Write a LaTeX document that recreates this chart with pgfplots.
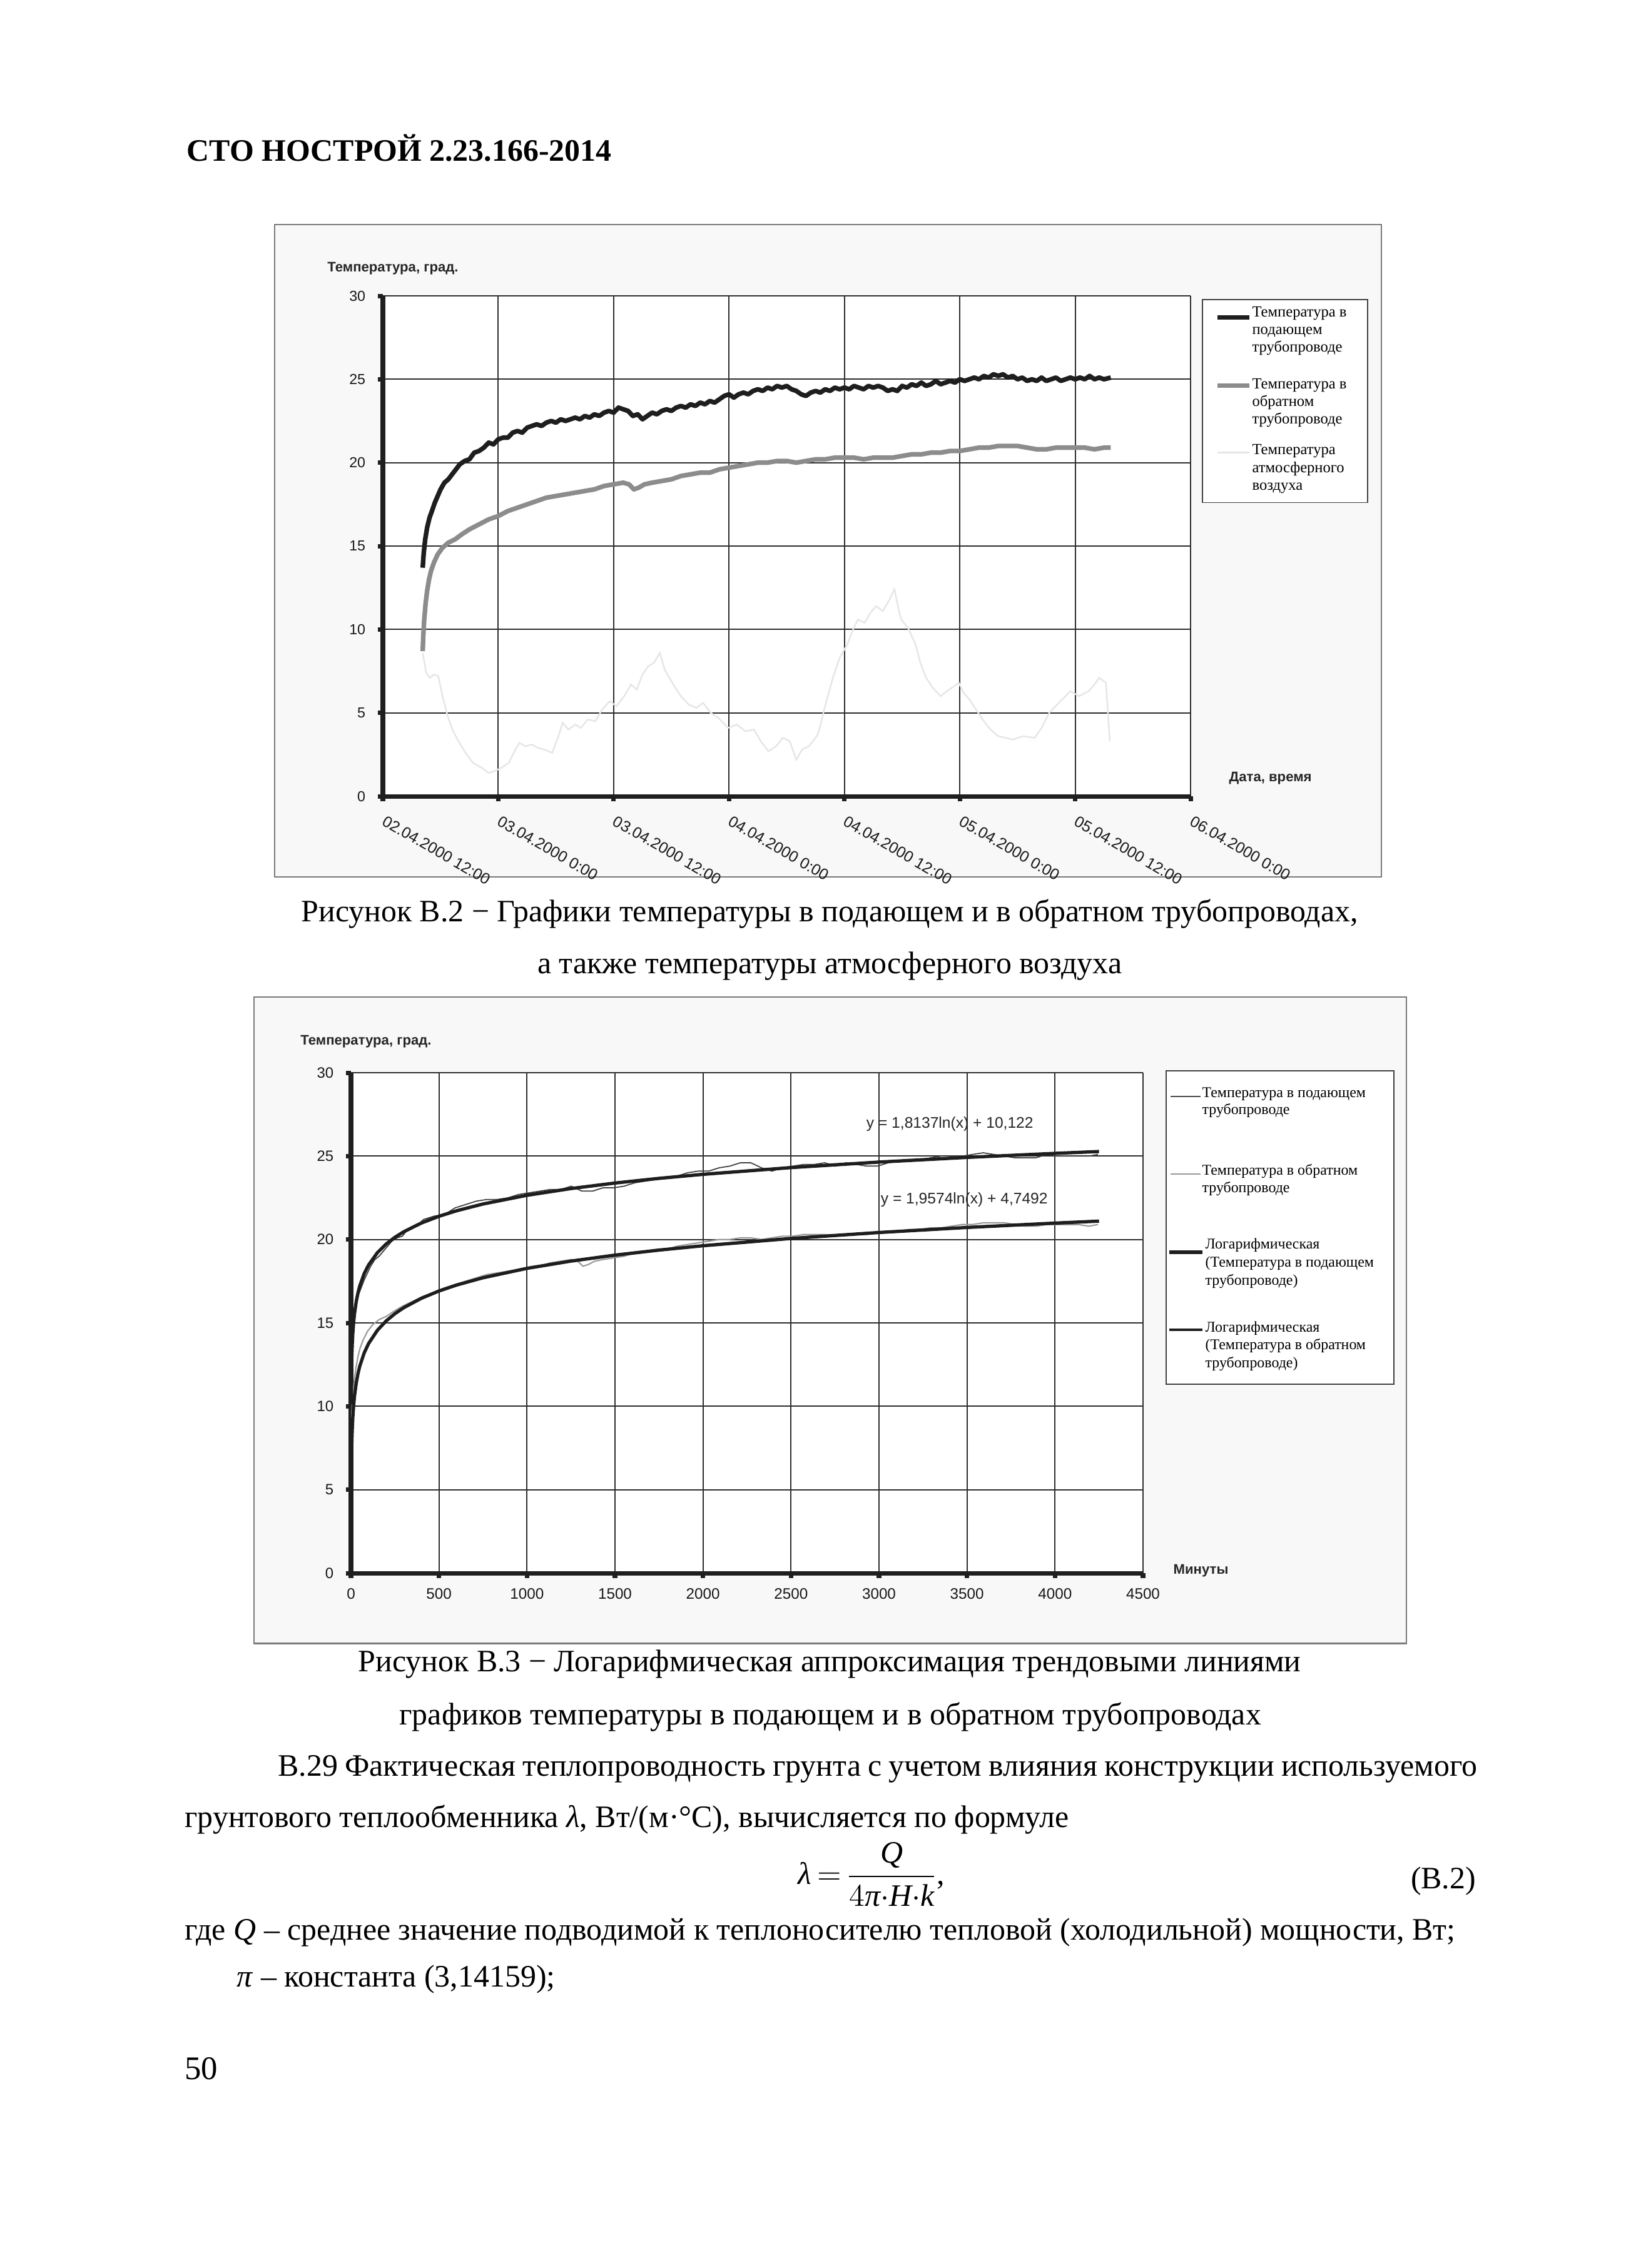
\documentclass[border=0pt]{standalone}
\usepackage{fontspec}
\setmainfont{Liberation Serif}
\newfontfamily\csans{Liberation Sans}
\usepackage{amsmath}
\usepackage{pgfplots}
\usepackage{pgfplotstable}
\pgfplotsset{compat=1.18}

\definecolor{framec}{HTML}{7A7A7A}
\definecolor{chartbg}{HTML}{F8F8F8}
\definecolor{gridc}{HTML}{2E2E2E}
\definecolor{supc}{HTML}{1E1E1E}
\definecolor{retc}{HTML}{8C8C8C}
\definecolor{airc}{HTML}{E6E6E6}
\newcommand\fs[2]{\fontsize{#1}{#2}\selectfont}

\begin{document}
% Рисунок В.2: часы от 02.04.2000 12:00
\pgfplotstableread{
h v
4.14 13.7
4.25 14.6
4.4 15.4
4.6 16.1
4.85 16.7
5.1 17.1
5.4 17.6
5.7 18.0
6.0 18.4
6.4 18.8
6.8 19.0
7.2 19.3
7.6 19.6
8.0 19.9
8.5 20.1
9.0 20.2
9.5 20.6
10.0 20.7
10.5 20.9
11.0 21.2
11.5 21.1
12.0 21.4
12.5 21.5
13.0 21.5
13.5 21.8
14.0 21.9
14.5 21.8
15.0 22.1
15.5 22.2
16.0 22.3
16.5 22.2
17.0 22.4
17.5 22.5
18.0 22.4
18.5 22.6
19.0 22.5
19.5 22.6
20.0 22.7
20.5 22.6
21.0 22.8
21.5 22.7
22.0 22.9
22.5 22.8
23.0 23.0
23.5 23.1
24.0 23.0
24.5 23.3
25.0 23.2
25.5 23.1
26.0 22.8
26.5 22.9
27.0 22.6
27.5 22.8
28.0 23.0
28.5 22.9
29.0 23.1
29.5 23.2
30.0 23.1
30.5 23.3
31.0 23.4
31.5 23.3
32.0 23.5
32.5 23.4
33.0 23.6
33.5 23.5
34.0 23.7
34.5 23.6
35.0 23.8
35.5 24.0
36.0 24.1
36.5 23.9
37.0 24.1
37.5 24.2
38.0 24.1
38.5 24.3
39.0 24.4
39.5 24.3
40.0 24.5
40.5 24.4
41.0 24.6
41.5 24.5
42.0 24.6
42.5 24.4
43.0 24.3
43.5 24.1
44.0 24.0
44.5 24.2
45.0 24.3
45.5 24.2
46.0 24.4
46.5 24.3
47.0 24.5
47.5 24.4
48.0 24.5
48.5 24.4
49.0 24.6
49.5 24.5
50.0 24.4
50.5 24.6
51.0 24.5
51.5 24.6
52.0 24.5
52.5 24.3
53.0 24.4
53.5 24.3
54.0 24.6
54.5 24.5
55.0 24.7
55.5 24.6
56.0 24.8
56.5 24.6
57.0 24.7
57.5 24.9
58.0 24.7
58.5 24.8
59.0 24.9
59.5 24.8
60.0 25.0
60.5 24.9
61.0 25.0
61.5 25.1
62.0 25.0
62.5 25.2
63.0 25.1
63.5 25.3
64.0 25.2
64.5 25.3
65.0 25.1
65.5 25.2
66.0 25.0
66.5 25.1
67.0 24.9
67.5 25.0
68.0 24.9
68.5 25.1
69.0 24.9
69.5 25.0
70.0 25.1
70.5 24.9
71.0 25.0
71.5 25.1
72.0 25.0
72.5 25.1
73.0 25.0
73.5 25.2
74.0 25.0
74.5 25.1
75.0 25.0
75.7 25.1
}\supply
\pgfplotstableread{
h v
4.14 8.7
4.2 9.6
4.3 10.6
4.45 11.6
4.6 12.3
4.8 13.0
5.0 13.5
5.3 14.0
5.7 14.5
6.2 14.9
6.8 15.2
7.5 15.4
8.2 15.7
9.0 16.0
10.0 16.3
11.0 16.6
12.0 16.8
13.0 17.1
14.0 17.3
15.0 17.5
16.0 17.7
17.0 17.9
18.0 18.0
19.0 18.1
20.0 18.2
21.0 18.3
22.0 18.4
23.0 18.6
24.0 18.7
25.0 18.8
25.6 18.7
26.1 18.4
26.6 18.5
27.2 18.7
28.0 18.8
29.0 18.9
30.0 19.0
31.0 19.2
32.0 19.3
33.0 19.4
34.0 19.4
35.0 19.6
36.0 19.7
37.0 19.8
38.0 19.9
39.0 20.0
40.0 20.0
41.0 20.1
42.0 20.1
43.0 20.0
44.0 20.1
45.0 20.2
46.0 20.2
47.0 20.3
48.0 20.3
49.0 20.3
50.0 20.2
51.0 20.3
52.0 20.3
53.0 20.3
54.0 20.4
55.0 20.5
56.0 20.5
57.0 20.6
58.0 20.6
59.0 20.7
60.0 20.7
61.0 20.8
62.0 20.9
63.0 20.9
64.0 21.0
65.0 21.0
66.0 21.0
67.0 20.9
68.0 20.8
69.0 20.8
70.0 20.9
71.0 20.9
72.0 20.9
73.0 20.9
74.0 20.8
75.0 20.9
75.7 20.9
}\ret
\pgfplotstableread{
h v
4.14 8.6
4.5 7.4
4.87 7.1
5.3 7.3
5.76 7.2
6.2 6.0
6.74 4.8
7.3 3.9
7.86 3.3
8.6 2.6
9.36 2.0
10.3 1.7
11.0 1.4
11.6 1.5
12.3 1.7
13.1 2.0
13.6 2.6
14.2 3.2
14.8 3.0
15.5 3.1
16.1 2.9
16.8 2.8
17.6 2.6
18.2 3.5
18.7 4.4
19.3 4.0
20.0 4.3
20.6 4.1
21.3 4.6
22.1 4.5
22.8 5.2
23.6 5.7
24.3 5.4
25.1 6.0
25.8 6.7
26.4 6.4
27.0 7.3
27.6 7.8
28.2 8.0
28.8 8.6
29.3 7.6
29.8 7.1
30.3 6.6
31.0 6.0
31.8 5.5
32.6 5.3
33.3 5.6
34.1 5.0
34.9 4.7
35.9 4.1
36.8 4.3
37.7 3.9
38.6 4.0
39.3 3.3
40.1 2.7
40.9 3.0
41.6 3.5
42.3 3.3
43.0 2.2
43.6 2.8
44.3 3.0
45.0 3.5
45.3 3.8
45.9 5.2
46.8 7.1
47.5 8.3
48.3 9.1
48.9 10.0
49.4 10.6
50.1 10.4
50.7 11.0
51.3 11.4
52.0 11.1
52.6 11.7
53.2 12.4
53.6 11.3
53.9 10.6
54.6 10.1
55.4 9.1
55.9 8.0
56.5 7.1
57.2 6.5
58.0 6.0
58.9 6.4
59.9 6.8
60.4 6.2
61.0 5.8
61.8 5.1
62.5 4.5
63.2 4.0
64.0 3.6
64.8 3.5
65.5 3.4
66.6 3.6
67.8 3.5
68.5 4.1
69.3 5.0
70.3 5.6
71.5 6.3
72.4 6.0
73.4 6.3
74.0 6.7
74.5 7.1
75.2 6.8
75.6 3.3
}\air
% Рисунок В.3: минуты
\pgfplotstableread{
m v
0 13.7
7 14.6
16 15.4
28 16.1
43 16.7
58 17.1
76 17.6
94 18.0
112 18.4
136 18.8
160 19.0
184 19.3
208 19.6
232 19.9
262 20.1
292 20.2
322 20.6
352 20.7
382 20.9
412 21.2
472 21.4
532 21.5
592 21.9
652 22.1
712 22.3
772 22.4
832 22.4
892 22.5
952 22.7
1012 22.8
1072 22.9
1132 23.0
1192 23.0
1252 23.2
1312 22.9
1372 22.9
1432 23.1
1492 23.1
1552 23.2
1612 23.4
1672 23.5
1732 23.6
1792 23.7
1852 23.8
1912 24.0
1972 24.1
2032 24.1
2092 24.3
2152 24.4
2212 24.6
2272 24.6
2332 24.3
2392 24.1
2452 24.3
2512 24.4
2572 24.5
2632 24.5
2692 24.6
2752 24.4
2812 24.6
2872 24.5
2932 24.4
2992 24.4
3052 24.6
3112 24.7
3172 24.8
3232 24.7
3292 24.9
3352 25.0
3412 25.0
3472 25.0
3532 25.1
3592 25.2
3652 25.1
3712 25.0
3772 24.9
3832 24.9
3892 24.9
3952 25.1
4012 25.0
4072 25.0
4132 25.0
4192 25.0
4244 25.1
}\supplym
\pgfplotstableread{
m v
0 8.7
4 9.6
10 10.6
19 11.6
28 12.3
40 13.0
52 13.5
70 14.0
94 14.5
124 14.9
160 15.2
202 15.4
244 15.7
292 16.0
352 16.3
412 16.6
472 16.8
532 17.1
592 17.3
652 17.5
712 17.7
772 17.9
832 18.0
892 18.1
952 18.2
1012 18.3
1072 18.4
1132 18.6
1192 18.7
1252 18.8
1288 18.7
1318 18.4
1348 18.5
1384 18.7
1432 18.8
1492 18.9
1552 19.0
1612 19.2
1672 19.3
1732 19.4
1792 19.4
1852 19.6
1912 19.7
1972 19.8
2032 19.9
2092 20.0
2152 20.0
2212 20.1
2272 20.1
2332 20.0
2392 20.1
2452 20.2
2512 20.2
2572 20.3
2632 20.3
2692 20.3
2752 20.2
2812 20.3
2872 20.3
2932 20.3
2992 20.4
3052 20.5
3112 20.5
3172 20.6
3232 20.6
3292 20.7
3352 20.7
3412 20.8
3472 20.9
3532 20.9
3592 21.0
3652 21.0
3712 21.0
3772 20.9
3832 20.8
3892 20.8
3952 20.9
4012 20.9
4072 20.9
4132 20.9
4192 20.8
4244 20.9
}\retm
% линии тренда (значения по подписанным уравнениям)
\pgfplotstableread{
m s r
1 10.122 4.749
2 11.379 6.106
3 12.115 6.900
5 13.041 7.900
7 13.651 8.558
10 14.298 9.256
15 15.034 10.050
20 15.555 10.613
30 16.291 11.407
40 16.813 11.970
50 17.217 12.407
75 17.953 13.200
100 18.474 13.763
150 19.210 14.557
200 19.732 15.120
250 20.136 15.557
300 20.467 15.914
400 20.989 16.477
500 21.393 16.914
600 21.724 17.271
750 22.129 17.707
1000 22.651 18.271
1250 23.055 18.707
1500 23.386 19.064
1750 23.666 19.366
2000 23.908 19.627
2500 24.312 20.064
3000 24.643 20.421
3500 24.923 20.723
4000 25.165 20.984
4250 25.275 21.103
}\fits

\begin{tikzpicture}
\useasboundingbox (0,0) rectangle (25.98cm,-36.26cm);
\fill[white] (0,0) rectangle (25.98cm,-36.26cm);

\begin{scope}[x=0.01cm,y=-0.01cm]
% рамки диаграмм
\filldraw[fill=chartbg, draw=framec, line width=0.6pt] (439,359) rectangle (2209,1403);
\filldraw[fill=chartbg, draw=framec, line width=0.6pt] (406,1595) rectangle (2249,2629);

\node[anchor=base west, inner sep=0, font=\bfseries\fs{14.2}{16}] at (298,258) {СТО НОСТРОЙ 2.23.166-2014};

\node[anchor=base, inner sep=0, font=\fs{14.2}{16}] at (1327,1474) {Рисунок В.2 − Графики температуры в подающем и в обратном трубопроводах,};
\node[anchor=base, inner sep=0, font=\fs{14.2}{16}] at (1327,1557) {а также температуры атмосферного воздуха};
\node[anchor=base, inner sep=0, font=\fs{14.2}{16}] at (1327,2674) {Рисунок В.3 − Логарифмическая аппроксимация трендовыми линиями};
\node[anchor=base, inner sep=0, font=\fs{14.2}{16}] at (1328,2759) {графиков температуры в подающем и в обратном трубопроводах};

\node[anchor=base west, inner sep=0, font=\fs{14.2}{16}] at (444,2841) {\makebox[19.17cm][s]{В.29 Фактическая теплопроводность грунта с учетом влияния конструкции используемого}};
\node[anchor=base west, inner sep=0, font=\fs{14.2}{16}] at (295,2923) {грунтового теплообменника \textit{λ}, Вт/(м·°С), вычисляется по формуле};
\node[anchor=base west, inner sep=0, font=\fs{14.2}{16}] at (1276,3014) {$\textit{λ}\,{=}\,\dfrac{\textit{Q}}{4\textit{π}{\cdot}\textit{H}{\cdot}\textit{k}}$,};
\node[anchor=base east, inner sep=0, font=\fs{14.2}{16}] at (2361,3021) {(В.2)};
\node[anchor=base west, inner sep=0, font=\fs{14.2}{16}] at (295,3103) {где \textit{Q} – среднее значение подводимой к теплоносителю тепловой (холодильной) мощности, Вт;};
\node[anchor=base west, inner sep=0, font=\fs{14.2}{16}] at (378,3178) {\textit{π} – константа (3,14159);};
\node[anchor=base west, inner sep=0, font=\fs{15}{17}] at (295,3326) {50};
\end{scope}

% ---------- Рисунок В.2 ----------
\begin{axis}[
  at={(6.12cm,-12.73cm)}, anchor=south west,
  width=12.91cm, height=8cm, scale only axis,
  xmin=0, xmax=84, ymin=0, ymax=30,
  axis lines=left, axis line style={-, line width=2pt, black!88},
  axis background/.style={fill=white},
  xtick={0,12,...,84}, ytick={0,5,...,30},
  xticklabels={02.04.2000 12:00,03.04.2000 0:00,03.04.2000 12:00,04.04.2000 0:00,04.04.2000 12:00,05.04.2000 0:00,05.04.2000 12:00,06.04.2000 0:00},
  yticklabels={0,5,10,15,20,25,30},
  grid=major, grid style={line width=0.6pt, gridc},
  tick align=outside, major tick length=2.4pt,
  tick style={line width=2pt, black!88},
  x tick label style={font=\csans\fs{7.1}{8}, text=black!90, rotate=-30, anchor=north west, xshift=1pt, yshift=-1pt},
  y tick label style={font=\csans\fs{6.6}{7.5}, text=black!90, xshift=-2pt},
]
\addplot[airc, line width=0.7pt] table[x=h, y=v] {\air};
\addplot[retc, line width=2.1pt, line join=round] table[x=h, y=v] {\ret};
\addplot[supc, line width=2.1pt, line join=round] table[x=h, y=v] {\supply};
\end{axis}

% ---------- Рисунок В.3 ----------
\begin{axis}[
  at={(5.61cm,-25.15cm)}, anchor=south west,
  width=12.66cm, height=8cm, scale only axis,
  xmin=0, xmax=4500, ymin=0, ymax=30,
  axis lines=left, axis line style={-, line width=2pt, black!88},
  axis background/.style={fill=white},
  xtick={0,500,...,4500}, ytick={0,5,...,30},
  xticklabels={0,500,1000,1500,2000,2500,3000,3500,4000,4500},
  yticklabels={0,5,10,15,20,25,30},
  grid=major, grid style={line width=0.6pt, gridc},
  tick align=outside, major tick length=2.4pt,
  tick style={line width=2pt, black!88},
  x tick label style={font=\csans\fs{6.9}{8}, text=black!90, yshift=-1pt},
  y tick label style={font=\csans\fs{6.8}{8}, text=black!90, xshift=-2pt},
]
\addplot[black!75, line width=0.5pt] table[x=m, y=v] {\supplym};
\addplot[black!40, line width=0.6pt] table[x=m, y=v] {\retm};
\addplot[supc, line width=1.5pt] table[x=m, y=s] {\fits};
\addplot[supc, line width=1.5pt] table[x=m, y=r] {\fits};
\end{axis}

\begin{scope}[x=0.01cm,y=-0.01cm]
% подписи осей
\node[anchor=base west, inner sep=0, font=\csans\bfseries\fs{6.3}{7}, text=black!85] at (523,435) {Температура, град.};
\node[anchor=base west, inner sep=0, font=\csans\bfseries\fs{6.3}{7}, text=black!85] at (1965,1250) {Дата, время};
\node[anchor=base west, inner sep=0, font=\csans\bfseries\fs{6.3}{7}, text=black!85] at (480,1671) {Температура, град.};
\node[anchor=base west, inner sep=0, font=\csans\bfseries\fs{6.3}{7}, text=black!85] at (1876,2518) {Минуты};
\node[anchor=base west, inner sep=0, font=\csans\fs{7}{8}, text=black!85] at (1385,1805) {y = 1,8137ln(x) + 10,122};
\node[anchor=base west, inner sep=0, font=\csans\fs{7}{8}, text=black!85] at (1408,1926) {y = 1,9574ln(x) + 4,7492};

% легенда В.2
\filldraw[fill=white, draw=black!75, line width=0.5pt] (1923,479) rectangle (2187,804);
\draw[supc, line width=2pt] (1947,508) -- (1998,508);
\draw[retc, line width=2pt] (1947,617) -- (1998,617);
\draw[airc, line width=0.7pt] (1947,724) -- (1998,724);
\begin{scope}[every node/.style={anchor=base west, inner sep=0, font=\fs{7}{8}}]
\node at (2002,507) {Температура в};
\node at (2002,535) {подающем};
\node at (2002,563) {трубопроводе};
\node at (2002,622) {Температура в};
\node at (2002,650) {обратном};
\node at (2002,678) {трубопроводе};
\node at (2002,727) {Температура};
\node at (2002,756) {атмосферного};
\node at (2002,784) {воздуха};
\end{scope}

% легенда В.3
\filldraw[fill=white, draw=black!75, line width=0.5pt] (1865,1713) rectangle (2229,2214);
\draw[black!70, line width=0.6pt] (1872,1754) -- (1920,1754);
\draw[black!40, line width=0.6pt] (1872,1878) -- (1920,1878);
\draw[supc, line width=1.6pt] (1870,2003) -- (1923,2003);
\draw[supc, line width=1.3pt] (1870,2127) -- (1923,2127);
\begin{scope}[every node/.style={anchor=base west, inner sep=0, font=\fs{6.8}{8}}]
\node at (1922,1755) {Температура в подающем};
\node at (1922,1783) {трубопроводе};
\node at (1922,1880) {Температура в обратном};
\node at (1922,1908) {трубопроводе};
\node at (1927,1998) {Логарифмическая};
\node at (1927,2027) {(Температура в подающем};
\node at (1927,2056) {трубопроводе)};
\node at (1927,2131) {Логарифмическая};
\node at (1927,2159) {(Температура в обратном};
\node at (1927,2188) {трубопроводе)};
\end{scope}
\end{scope}
\end{tikzpicture}
\end{document}
